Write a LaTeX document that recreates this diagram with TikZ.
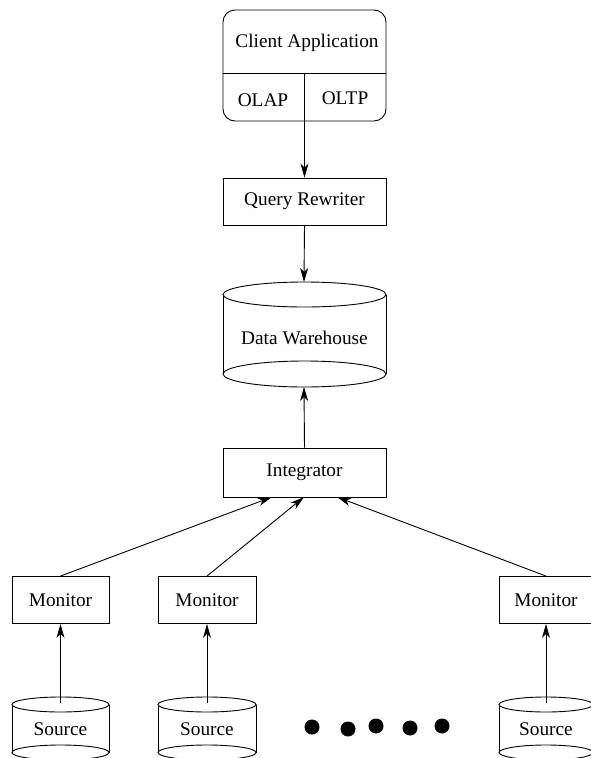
\documentclass[tikz,border=0pt]{standalone}
\usepackage{fontspec}
\setmainfont{Liberation Serif}
\usetikzlibrary{arrows.meta}
\begin{document}
\begin{tikzpicture}[x=1pt,y=-1pt,line width=0.9pt,
  every node/.style={font=\fontsize{19.3}{23}\selectfont, inner sep=0pt},
  box/.style={draw, minimum width=163pt, minimum height=47pt},
  mon/.style={draw, minimum width=97pt, minimum height=47pt},
  arr/.style={-{Stealth[length=14pt,width=8pt,inset=4pt]}}]
\useasboundingbox (0,0) rectangle (591,758);
% Client application
\node[draw, rounded corners=12pt, minimum width=163pt, minimum height=111pt] (ca) at (304.5,65.5) {};
\draw (223,73) -- (386,73);
\draw (304,73) -- (304,121);
\node (catext) at (307,43) {Client Application};
\node (olap) at (263,100) {OLAP};
\node (oltp) at (345,98) {OLTP};
% Query rewriter
\node[box] (qr) at (304.5,201.5) {Query Rewriter};
% Data warehouse cylinder
\draw (223,294.5) -- (223,374) (386,294.5) -- (386,374);
\draw (304.5,294.5) ellipse [x radius=81.5pt, y radius=12.5pt];
\draw (304.5,374) ellipse [x radius=81.5pt, y radius=13pt];
\node (dw) at (304.5,338) {Data Warehouse};
\coordinate (dwtop) at (304,282);
\coordinate (dwbot) at (304,387);
% Integrator
\node[box, minimum height=49pt] (int) at (304.5,472.5) {Integrator};
\coordinate (i1) at (272,497);
\coordinate (i2) at (304,497);
\coordinate (i3) at (337,497);
% Monitors
\node[mon] (m1) at (60.5,600) {Monitor};
\node[mon, minimum width=98pt] (m2) at (207,600) {Monitor};
\node[mon, minimum width=94pt] (m3) at (546,600) {Monitor};
% Sources
\foreach \n/\cx/\rx in {1/60.5/48.5, 2/207/49, 3/546/47}{
  \draw (\cx-\rx,704.5) -- (\cx-\rx,752.5) (\cx+\rx,704.5) -- (\cx+\rx,752.5);
  \draw (\cx,704.5) ellipse [x radius=\rx pt, y radius=7.5pt];
  \draw (\cx,752.5) ellipse [x radius=\rx pt, y radius=7.5pt];
  \node (s\n) at (\cx,729) {Source};
  \coordinate (s\n top) at (\cx,703);
}
% Dots
\foreach \x/\y in {312/727, 348/729, 376/726, 410/728, 442/726}
  \fill (\x,\y) circle [radius=7.5pt];
% Arrows
\draw[arr] (ca.south) -- (qr.north);
\draw[arr] (qr.south) -- (dwtop);
\draw[arr] (int.north) -- (dwbot);
\draw[arr] (m1.north) -- (i1);
\draw[arr] (m2.north) -- (i2);
\draw[arr] (m3.north) -- (i3);
\draw[arr] (s1top) -- (m1.south);
\draw[arr] (s2top) -- (m2.south);
\draw[arr] (s3top) -- (m3.south);
\end{tikzpicture}
\end{document}
